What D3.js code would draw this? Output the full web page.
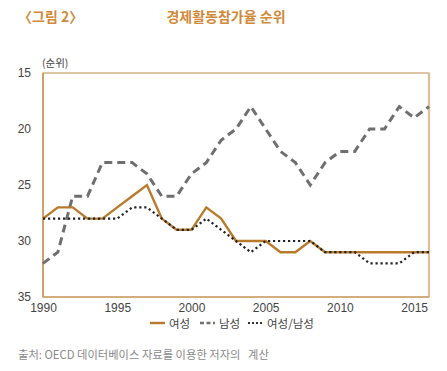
<!DOCTYPE html>
<html>
<head>
<meta charset="utf-8">
<script src="https://cdn.jsdelivr.net/npm/d3@7"></script>
<style>
body{margin:0;background:#fff;}
svg{display:block;font-family:"Liberation Sans","Noto Sans CJK KR",sans-serif;}
</style>
</head>
<body>
<div id="app"></div>
<script>
const years = d3.range(1990, 2017);
// 경제활동참가율 순위 (OECD)
const female = [28,27,27,28,28,27,26,25,28,29,29,27,28,30,30,30,31,31,30,31,31,31,31,31,31,31,31];
const male   = [32,31,26,26,23,23,23,24,26,26,24,23,21,20,18,20,22,23,25,23,22,22,20,20,18,19,18];
const ratio  = [28,28,28,28,28,28,27,27,28,29,29,28,29,30,31,30,30,30,30,31,31,31,32,32,32,31,31];
const yTicks = [15,20,25,30,35];
const xTicks = [1990,1995,2000,2005,2010,2015];

const W = 447, H = 371;
const m = {left:43, top:73, right:18, bottom:74};

const svg = d3.select("#app").append("svg").attr("width", W).attr("height", H);

const x = d3.scaleLinear().domain([1990, 2016]).range([m.left, W - m.right]);
const y = d3.scaleLinear().domain([15, 35]).range([m.top, H - m.bottom]);

// titles
svg.append("text").attr("x", 18).attr("y", 22)
	.attr("fill", "#d08a3a").attr("font-size", 14).attr("font-weight", "bold")
	.attr("font-family", "Noto Sans CJK KR").text("〈그림 2〉");
svg.append("text").attr("x", 226).attr("y", 22).attr("text-anchor", "middle")
	.attr("fill", "#d08a3a").attr("font-size", 14).attr("font-weight", "bold")
	.attr("font-family", "Noto Sans CJK KR").text("경제활동참가율 순위");

svg.append("text").attr("x", 42).attr("y", 67)
	.attr("fill", "#444").attr("font-size", 10.5)
	.attr("font-family", "Noto Sans CJK KR").text("(순위)");

// frame
svg.append("rect").attr("x", x(1990)).attr("y", y(15))
	.attr("width", x(2016) - x(1990)).attr("height", y(35) - y(15))
	.attr("fill", "none").attr("stroke", "#c9a06a").attr("stroke-width", 1.2);
svg.append("line").attr("x1", x(2016)).attr("x2", x(2016)).attr("y1", y(15)).attr("y2", y(35))
	.attr("stroke", "#dcbf96").attr("stroke-width", 2.2);
svg.append("line").attr("x1", x(1990)).attr("x2", x(2016)).attr("y1", y(35)).attr("y2", y(35))
	.attr("stroke", "#d2ae7e").attr("stroke-width", 2);
svg.append("line").attr("x1", x(1990)).attr("x2", x(1990)).attr("y1", y(15)).attr("y2", y(35))
	.attr("stroke", "#c9995a").attr("stroke-width", 1.6);

// axes
const yAxis = svg.append("g").attr("transform", `translate(${m.left},0)`)
	.call(d3.axisLeft(y).tickValues(yTicks).tickSize(0).tickPadding(12));
const xAxis = svg.append("g").attr("transform", `translate(0,${y(35)})`)
	.call(d3.axisBottom(x).tickValues(xTicks).tickFormat(d3.format("d")).tickSize(0).tickPadding(6));
[yAxis, xAxis].forEach(function(g){
	g.select(".domain").remove();
	g.selectAll("text").attr("fill", "#444").attr("font-size", 12);
});

const line = d3.line().x((d, i) => x(years[i])).y(d => y(d));

svg.append("path").datum(male).attr("d", line)
	.attr("fill", "none").attr("stroke", "#6f6f6f").attr("stroke-width", 3)
	.attr("stroke-dasharray", "8,5");
svg.append("path").datum(female).attr("d", line)
	.attr("fill", "none").attr("stroke", "#b87a2b").attr("stroke-width", 2.4)
	.attr("stroke-linejoin", "miter");
svg.append("path").datum(ratio).attr("d", line)
	.attr("fill", "none").attr("stroke", "#222").attr("stroke-width", 2.2)
	.attr("stroke-dasharray", "2.2,2.8");

// legend
const legend = [
	{name:"여성", color:"#b87a2b", dash:null, w:2.4},
	{name:"남성", color:"#6f6f6f", dash:"4,2.5", w:2.6},
	{name:"여성/남성", color:"#333", dash:"2,2", w:2.2}
];
const lx = [150, 200, 248];
const ly = 323;
legend.forEach(function(l, i){
	svg.append("line").attr("x1", lx[i]).attr("x2", lx[i] + 15).attr("y1", ly).attr("y2", ly)
		.attr("stroke", l.color).attr("stroke-width", l.w).attr("stroke-dasharray", l.dash);
	svg.append("text").attr("x", lx[i] + 19).attr("y", ly + 4.5)
		.attr("fill", "#444").attr("font-size", 11.5)
		.attr("font-family", "Noto Sans CJK KR").text(l.name);
});

svg.append("text").attr("x", 18).attr("y", 359)
	.attr("fill", "#8a8a8a").attr("font-size", 11.3)
	.attr("font-family", "Noto Sans CJK KR").attr("xml:space", "preserve")
	.text("출처: OECD 데이터베이스 자료를 이용한 저자의   계산");
</script>
</body>
</html>
